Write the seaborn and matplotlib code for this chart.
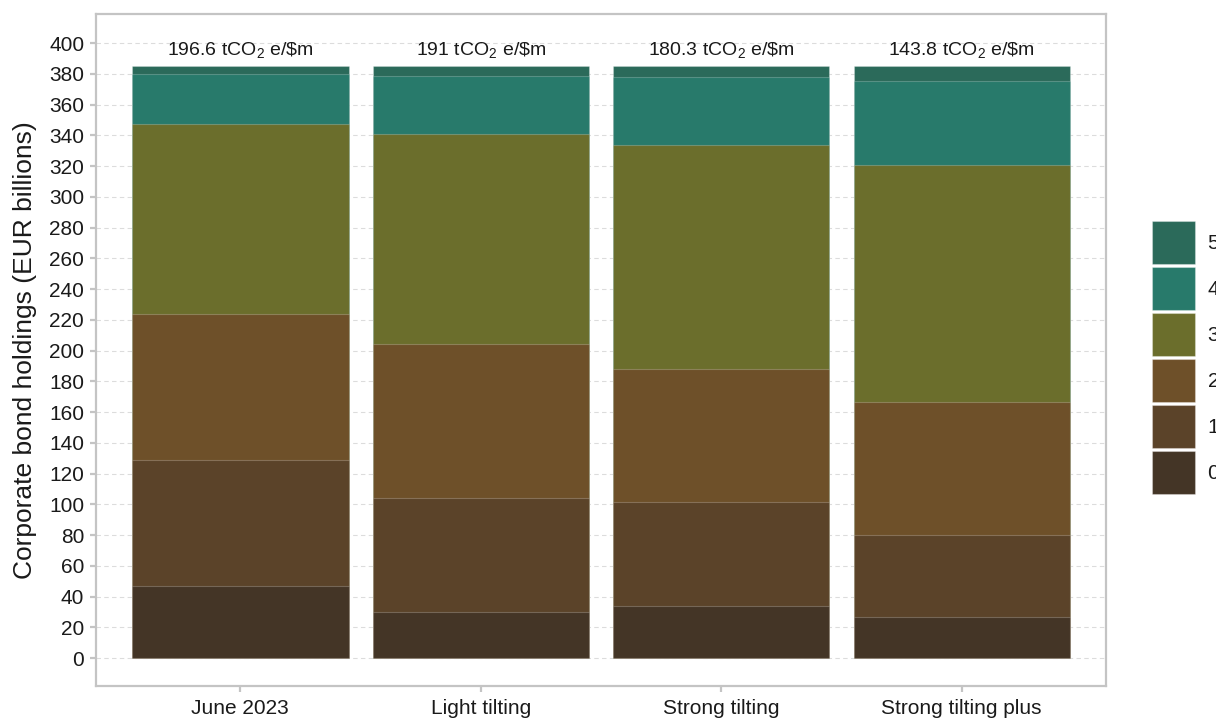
import numpy as np
import pandas as pd
import matplotlib
matplotlib.use("Agg")
import matplotlib.pyplot as plt
from matplotlib.patches import Patch
import seaborn as sns

categories = ["June 2023", "Light tilting", "Strong tilting", "Strong tilting plus"]
layers = ["0", "1", "2", "3", "4", "5"]
layer0 = [46.6, 29.7, 34.0, 26.9]
layer1 = [82.0, 74.2, 67.5, 52.9]
layer2 = [94.9, 100.1, 86.7, 86.5]
layer3 = [123.8, 137.0, 145.2, 154.5]
layer4 = [32.3, 37.7, 44.3, 54.5]
layer5 = [5.4, 6.3, 7.3, 9.7]
intensity_labels = ["196.6", "191", "180.3", "143.8"]
colors = ["#443526", "#5b4329", "#6e5029", "#6b6e2c", "#287a6b", "#2b6a5a"]

sns.set_theme(style="white")
plt.rcParams["font.family"] = ["Liberation Sans", "DejaVu Sans"]
plt.rcParams["mathtext.default"] = "regular"

series = [layer0, layer1, layer2, layer3, layer4, layer5]
df = pd.DataFrame({"category": categories})
for name, vals in zip(layers, series):
    df[name] = vals
cum = df[layers].cumsum(axis=1)

fig = plt.figure(figsize=(12.16, 7.21), dpi=100)
ax = fig.add_axes([96 / 1216, 35 / 721, 1010 / 1216, 672 / 721])

for name, col in reversed(list(zip(layers, colors))):
    sns.barplot(x=df["category"], y=cum[name], color=col, width=0.9,
                edgecolor=(1, 1, 1, 0.22), linewidth=0.8, saturation=1,
                ax=ax, zorder=2)

ax.set_xlim(-0.6, 3.6)
ax.set_ylim(-18.2, 418.9)
ax.set_yticks(np.arange(0, 401, 20))
ax.yaxis.grid(True, linestyle=(0, (4, 3)), color="#dcdcdc", linewidth=0.8, zorder=0)
ax.xaxis.grid(False)
ax.set_axisbelow(True)

for sp in ax.spines.values():
    sp.set_visible(True)
    sp.set_color("#c4c4c4")
    sp.set_linewidth(1.6)

ax.tick_params(axis="y", which="major", left=True, length=4.5, width=1.6,
               color="#c4c4c4", labelsize=15, labelcolor="#1a1a1a", pad=4)
ax.tick_params(axis="x", which="major", bottom=True, length=4.5, width=1.6,
               color="#c4c4c4", labelsize=15, labelcolor="#1a1a1a", pad=5)

ax.set_xlabel("")
ax.set_ylabel("Corporate bond holdings (EUR billions)", fontsize=19, color="#1a1a1a")
ax.yaxis.set_label_coords(-0.058, 0.5)

for i, lab in enumerate(intensity_labels):
    ax.text(i, 395.5, lab + r" tCO$_2$ e/\$m", ha="center", va="center",
            fontsize=14, color="#1a1a1a", zorder=5)

handles = [Patch(facecolor=c, edgecolor=(1, 1, 1, 0.3), linewidth=0.8)
           for c in reversed(colors)]
fig.legend(handles, list(reversed(layers)), loc="center left",
           bbox_to_anchor=(1152 / 1216, 0.504), frameon=False,
           fontsize=15, handlelength=2.07, handleheight=2.80,
           labelspacing=0.14, handletextpad=0.6, borderpad=0, borderaxespad=0,
           labelcolor="#1a1a1a")

fig.savefig("out.png", dpi=100)
